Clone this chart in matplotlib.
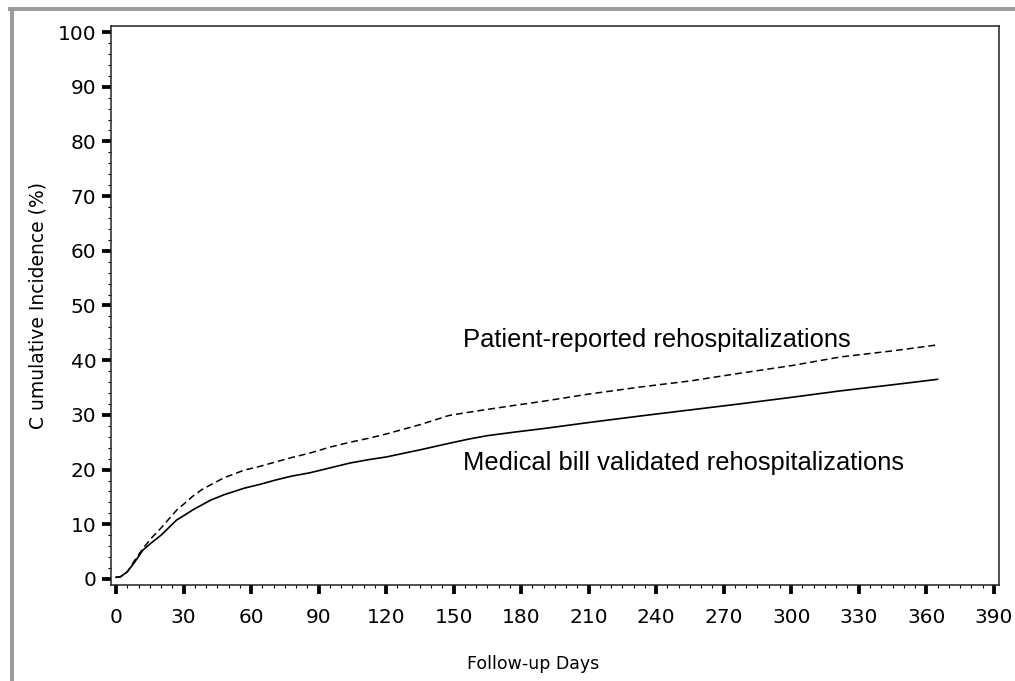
import numpy as np
import matplotlib.pyplot as plt
from matplotlib.lines import Line2D
from matplotlib.ticker import MultipleLocator

# values
days = [0, 2, 5, 8, 12, 16, 20, 24, 27, 31, 34, 38, 42, 48, 57, 64, 71, 78,
        86, 95, 104, 112, 120, 135, 148, 157, 165, 178, 190, 210, 233, 255,
        277, 300, 322, 345, 365]
medical_bill = [0.3, 0.4, 1.3, 2.9, 5.3, 6.7, 8.0, 9.6, 10.8, 11.8, 12.6,
                13.5, 14.4, 15.4, 16.6, 17.3, 18.1, 18.8, 19.4, 20.3, 21.2,
                21.8, 22.3, 23.6, 24.8, 25.6, 26.2, 26.9, 27.5, 28.6, 29.8,
                30.9, 32.0, 33.2, 34.4, 35.5, 36.5]
patient_reported = [0.3, 0.4, 1.3, 3.2, 5.6, 7.6, 9.3, 11.2, 12.6, 14.0,
                    15.1, 16.3, 17.2, 18.5, 19.9, 20.6, 21.4, 22.2, 23.0,
                    24.1, 25.0, 25.7, 26.5, 28.2, 29.9, 30.5, 31.0, 31.8,
                    32.5, 33.8, 35.1, 36.2, 37.6, 39.0, 40.6, 41.7, 42.8]

x_ticks = list(range(0, 391, 30))
y_ticks = list(range(0, 101, 10))

fig = plt.figure(figsize=(10.15, 6.81), dpi=100)
ax = fig.add_axes([0.1094, 0.1410, 0.8748, 0.8208])

ax.plot(days, medical_bill, color='black', lw=1.2)
ax.plot(days, patient_reported, color='black', lw=1.1, dashes=(4.5, 2.6))

ax.set_xlim(-2.2, 392.3)
ax.set_ylim(-1.1, 101.1)
ax.set_xticks(x_ticks)
ax.set_yticks(y_ticks)
ax.xaxis.set_minor_locator(MultipleLocator(5))
ax.yaxis.set_minor_locator(MultipleLocator(2))

ax.tick_params(which='major', direction='out', length=6.5, width=2.7,
               labelsize=14.5, pad=4, color='black')
ax.tick_params(which='minor', direction='out', length=2.5, width=0.8,
               color='black')
ax.tick_params(axis='x', which='major', pad=10)

for s in ax.spines.values():
    s.set_linewidth(1.1)
    s.set_color('#222222')

ax.set_xlabel('Follow-up Days', fontsize=12.5)
ax.set_ylabel('C umulative Incidence (%)', fontsize=13.5)
ax.xaxis.set_label_coords((533 - 111) / 888, -0.125)
ax.yaxis.set_label_coords(-0.072, 0.5)

ax.text(154, 43.7, 'Patient-reported rehospitalizations',
        family='Liberation Sans', fontsize=18.4, va='center')
ax.text(154, 21.2, 'Medical bill validated rehospitalizations',
        family='Liberation Sans', fontsize=18.4, va='center')

# grey frame around the figure (top and left only)
fig.add_artist(Line2D([11.5 / 1015, 11.5 / 1015], [0, 1 - 9 / 681],
                      transform=fig.transFigure, color='#9a9a9a', lw=2.8))
fig.add_artist(Line2D([10 / 1015, 1], [1 - 9 / 681, 1 - 9 / 681],
                      transform=fig.transFigure, color='#9a9a9a', lw=2.8))

fig.savefig('out.png', dpi=100)
